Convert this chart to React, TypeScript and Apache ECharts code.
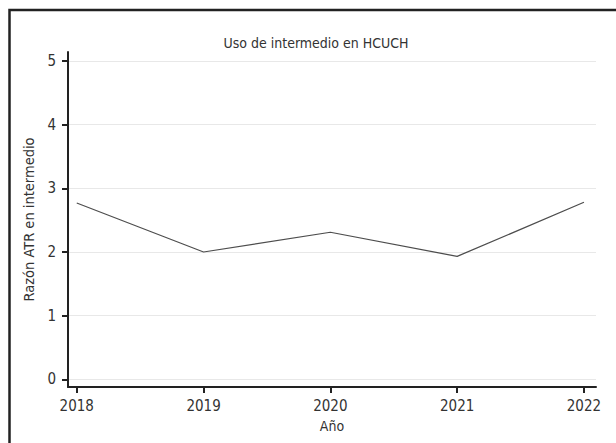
import React, { useEffect, useRef } from "react";
import * as echarts from "echarts";

const years = [2018, 2019, 2020, 2021, 2022];
const ratios = [2.77, 2.0, 2.31, 1.93, 2.78];
const yTicks = [0, 1, 2, 3, 4, 5];
const xTicks = [2018, 2019, 2020, 2021, 2022];

const FONT = "'DejaVu Sans Condensed', 'Liberation Sans Narrow', sans-serif";
const TXT = "#333333";
const AX = "#222222";

export default function App() {
  const ref = useRef<HTMLDivElement>(null);
  useEffect(() => {
    if (!ref.current) return;
    const chart = echarts.init(ref.current, null, { renderer: "svg" });
    chart.setOption({
      animation: false,
      backgroundColor: "#ffffff",
      textStyle: { fontFamily: FONT },
      title: {
        text: "Uso de intermedio en HCUCH",
        left: 311,
        top: 31,
        textAlign: "center",
        textStyle: { fontFamily: FONT, fontSize: 14, fontWeight: "normal", color: TXT },
      },
      graphic: [
        {
          type: "rect",
          shape: { x: 9.5, y: 10, width: 800, height: 800 },
          style: { fill: "none", stroke: AX, lineWidth: 2.5 },
          silent: true,
        },
      ],
      grid: { left: 68, right: 20, top: 52, bottom: 56 },
      xAxis: {
        type: "value",
        min: 2017.931,
        max: 2022.095,
        name: "Año",
        nameLocation: "middle",
        nameGap: 32,
        nameTextStyle: { fontFamily: FONT, fontSize: 14, color: TXT },
        axisLine: { show: true, onZero: false, lineStyle: { color: AX, width: 2 } },
        axisTick: { show: true, length: 6, customValues: xTicks, lineStyle: { color: AX, width: 2 } },
        axisLabel: {
          customValues: xTicks,
          formatter: (v: number) => String(v),
          fontFamily: FONT,
          fontSize: 15,
          color: TXT,
          margin: 11,
        },
        splitLine: { show: false },
      },
      yAxis: {
        type: "value",
        min: -0.121,
        max: 5.141,
        name: "Razón ATR en intermedio",
        nameLocation: "middle",
        nameGap: 28,
        nameTextStyle: { fontFamily: FONT, fontSize: 14.5, color: TXT },
        axisLine: { show: true, onZero: false, lineStyle: { color: AX, width: 2 } },
        axisTick: { show: true, length: 6, customValues: yTicks, lineStyle: { color: AX, width: 2 } },
        axisLabel: {
          customValues: yTicks,
          formatter: (v: number) => String(v),
          fontFamily: FONT,
          fontSize: 15,
          color: TXT,
          margin: 12,
        },
        splitLine: { show: true, lineStyle: { color: "#e8e8e8", width: 1 } },
      },
      series: [
        {
          type: "line",
          data: years.map((y, i) => [y, ratios[i]]),
          showSymbol: false,
          symbol: "none",
          lineStyle: { color: "#4d4d4d", width: 1.2 },
        },
      ],
    });
    return () => chart.dispose();
  }, []);
  return (
    <div
      ref={ref}
      style={{ position: "absolute", left: 0, top: 0, width: 616, height: 443 }}
    />
  );
}
